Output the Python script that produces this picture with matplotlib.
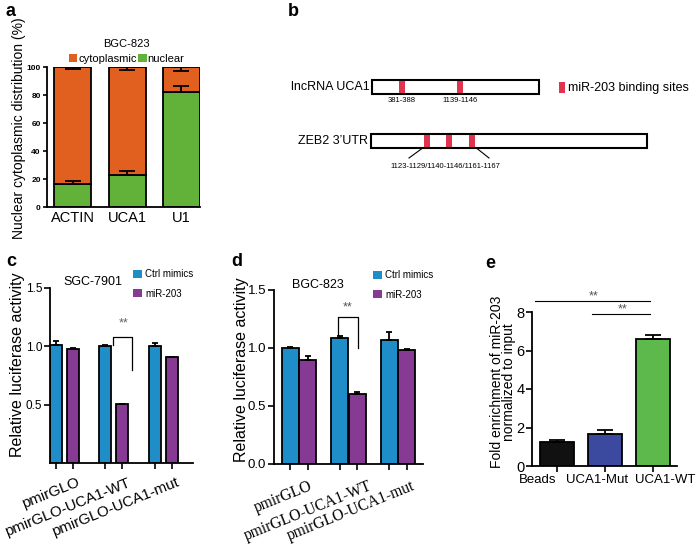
import matplotlib
matplotlib.use('Agg')
import matplotlib.pyplot as plt
from matplotlib.patches import Rectangle, Patch
from matplotlib.transforms import ScaledTranslation
import numpy as np

plt.rcParams['font.family'] = ['Liberation Sans', 'DejaVu Sans']
plt.rcParams['axes.linewidth'] = 1.3

# ---------------- data ----------------
a_categories = ['ACTIN', 'UCA1', 'U1']
a_nuclear = [16.4, 22.9, 82.4]
a_nuclear_err = [2.2, 2.8, 4.2]
a_cyto_err = [1.4, 2.4, 2.9]

uca1_length = 2150
uca1_sites = [381, 1139]
uca1_site_labels = ['381-388', '1139-1146']
zeb2_site_frac = [0.203, 0.283, 0.366]
zeb2_site_label = '1123-1129/1140-1146/1161-1167'

luc_groups = ['pmirGLO', 'pmirGLO-UCA1-WT', 'pmirGLO-UCA1-mut']
c_ctrl = [1.01, 1.0, 1.0]
c_ctrl_err = [0.035, 0.015, 0.03]
c_mir = [0.98, 0.51, 0.91]
c_mir_err = [0.01, 0.0, 0.0]
d_ctrl = [1.0, 1.09, 1.07]
d_ctrl_err = [0.005, 0.01, 0.065]
d_mir = [0.9, 0.6, 0.98]
d_mir_err = [0.035, 0.025, 0.01]

e_categories = ['Beads', 'UCA1-Mut', 'UCA1-WT']
e_values = [1.23, 1.66, 6.58]
e_err = [0.12, 0.21, 0.22]

# ---------------- styles ----------------
ORANGE = '#E2601F'
GREEN = '#62B23A'
BLUE = '#1F8DC8'
PURPLE = '#873A94'
RED = '#E0334F'
E_COLORS = ['#111111', '#3B4A9F', '#5DB94B']

W, H = 700, 552
fig = plt.figure(figsize=(7, 5.52), dpi=100)


def px_axes(l, t, r, b):
    return fig.add_axes([l / W, 1 - b / H, (r - l) / W, (b - t) / H])


def shift_labels(labels, dxs):
    for lab, dx in zip(labels, dxs):
        lab.set_transform(lab.get_transform() + ScaledTranslation(dx / 100, 0, fig.dpi_scale_trans))


# overlay axes in pixel coordinates (panel letters + schematic b)
ov = fig.add_axes([0, 0, 1, 1])
ov.set_xlim(0, W)
ov.set_ylim(H, 0)
ov.axis('off')

for letter, (x, y) in zip('abcde', [(11, 12), (293, 12), (11, 262), (237, 262), (490, 263)]):
    ov.text(x, y, letter, fontsize=13, fontweight='bold', ha='center', va='center')

# ---------------- panel a ----------------
ax = px_axes(47, 67, 200, 207)
xa = np.arange(len(a_categories))
cyto = [100 - n for n in a_nuclear]
ax.bar(xa, a_nuclear, width=0.68, color=GREEN, edgecolor='black', linewidth=1.3, zorder=2)
ax.bar(xa, cyto, bottom=a_nuclear, width=0.68, color=ORANGE, edgecolor='black', linewidth=1.3, zorder=2)
ax.errorbar(xa, a_nuclear, yerr=[np.zeros(3), a_nuclear_err], fmt='none', ecolor='black',
            elinewidth=1.3, capsize=6, capthick=1.3, zorder=3)
ax.errorbar(xa, [100] * 3, yerr=[a_cyto_err, np.zeros(3)], fmt='none', ecolor='black',
            elinewidth=1.3, capsize=6, capthick=1.3, zorder=3)
ax.set_xlim(-0.47, 2.34)
ax.set_ylim(0, 100)
ax.set_yticks([0, 20, 40, 60, 80, 100])
ax.set_yticklabels(['0', '20', '40', '60', '80', '100'], fontsize=6, fontweight='bold')
ax.set_xticks(xa)
ax.set_xticklabels(a_categories, fontsize=10.5)
ax.tick_params(axis='x', length=0, pad=3)
ax.tick_params(axis='y', length=3, width=1.2, pad=1.5)
for s in ['top', 'right']:
    ax.spines[s].set_visible(False)
ax.set_ylabel('Nuclear cytoplasmic distribution (%)', fontsize=10)
ax.yaxis.set_label_coords(-0.135, 0.56)
ax.legend(handles=[Patch(facecolor=ORANGE, label='cytoplasmic'),
                   Patch(facecolor=GREEN, label='nuclear')],
          ncol=2, loc='lower center', bbox_to_anchor=(0.52, 1.02), frameon=False,
          title='BGC-823', fontsize=8, title_fontsize=8, handlelength=0.8,
          handleheight=0.75, handletextpad=0.05, columnspacing=0.15,
          borderpad=0, borderaxespad=0)

# ---------------- panel b ----------------
ux0, ux1, uy0, uy1 = 372, 539, 80, 94
ov.add_patch(Rectangle((ux0, uy0), ux1 - ux0, uy1 - uy0, facecolor='white',
                       edgecolor='black', linewidth=1.5, zorder=2))
for s, lab in zip(uca1_sites, uca1_site_labels):
    xs = ux0 + s / uca1_length * (ux1 - ux0)
    ov.add_patch(Rectangle((xs - 3, uy0 + 0.8), 6, uy1 - uy0 - 1.6, facecolor=RED,
                           edgecolor='none', zorder=3))
    ov.text(xs, 101, lab, fontsize=5.5, ha='center', va='center')
ov.text(370, 87, 'lncRNA UCA1', fontsize=9, ha='right', va='center')
ov.add_patch(Rectangle((559, 82), 6, 11, facecolor=RED, edgecolor='none'))
ov.text(568, 87.5, 'miR-203 binding sites', fontsize=9, ha='left', va='center')

zx0, zx1, zy0, zy1 = 371, 647, 134, 148
ov.add_patch(Rectangle((zx0, zy0), zx1 - zx0, zy1 - zy0, facecolor='white',
                       edgecolor='black', linewidth=1.5, zorder=2))
for f in zeb2_site_frac:
    xs = zx0 + f * (zx1 - zx0)
    ov.add_patch(Rectangle((xs - 3, zy0 + 0.8), 6, zy1 - zy0 - 1.6, facecolor=RED,
                           edgecolor='none', zorder=3))
ov.plot([422, 409], [148.5, 158], color='black', lw=0.8)
ov.plot([477, 489], [148.5, 158], color='black', lw=0.8)
ov.text(445, 166, zeb2_site_label, fontsize=5.5, ha='center', va='center')
ov.text(368, 141, 'ZEB2 3\u2019UTR', fontsize=9, ha='right', va='center')


# ---------------- panels c, d ----------------
def luc_panel(box, ctrl, ctrl_err, mir, mir_err, off, width, xlim, yticks, ytlabels,
              tick_font, tick_fs, title, title_x, title_y, legend_xy, lab_dx, lab_pad,
              ytick_fs, ylab_xy):
    ax = px_axes(*box)
    xg = np.arange(len(luc_groups))
    ax.bar(xg - off, ctrl, width=width, color=BLUE, edgecolor='black', linewidth=1.3, zorder=2)
    ax.bar(xg + off, mir, width=width, color=PURPLE, edgecolor='black', linewidth=1.3, zorder=2)
    ax.errorbar(xg - off, ctrl, yerr=[np.zeros(3), ctrl_err], fmt='none', ecolor='black',
                elinewidth=1.3, capsize=2.5, capthick=1.3, zorder=3)
    ax.errorbar(xg + off, mir, yerr=[np.zeros(3), mir_err], fmt='none', ecolor='black',
                elinewidth=1.3, capsize=2.5, capthick=1.3, zorder=3)
    ax.set_xlim(*xlim)
    ax.set_ylim(0, 1.5)
    ax.set_yticks(yticks)
    ax.set_yticklabels(ytlabels, fontsize=ytick_fs)
    ax.tick_params(axis='y', length=4, width=1.2, pad=1.5)
    ax.set_xticks(np.concatenate([xg - off, xg + off]))
    ax.set_xticklabels([])
    ax.tick_params(axis='x', which='major', length=4, width=1.2)
    ax.set_xticks(xg, luc_groups, minor=True)
    ax.tick_params(axis='x', which='minor', length=0, pad=lab_pad)
    labs = ax.get_xticklabels(minor=True)
    for lab in labs:
        lab.set_rotation(22)
        lab.set_ha('right')
        lab.set_va('top')
        lab.set_rotation_mode('anchor')
        lab.set_fontfamily(tick_font)
        lab.set_fontsize(tick_fs)
    shift_labels(labs, lab_dx)
    for s in ['top', 'right']:
        ax.spines[s].set_visible(False)
    ax.set_ylabel('Relative luciferase activity', fontsize=11.5)
    ax.yaxis.set_label_coords(*ylab_xy)
    ov.text(title_x, title_y, title, fontsize=9, ha='center', va='center')
    lx, ly = legend_xy
    ax.legend(handles=[Patch(facecolor=BLUE, label='Ctrl mimics'),
                       Patch(facecolor=PURPLE, label='miR-203')],
              loc='upper left', bbox_to_anchor=(lx / W, 1 - ly / H),
              bbox_transform=fig.transFigure, frameon=False, fontsize=7,
              handlelength=0.95, handleheight=0.9, handletextpad=0.3,
              labelspacing=1.0, borderpad=0, borderaxespad=0)
    return ax


ax_c = luc_panel((50, 288, 193, 463), c_ctrl, c_ctrl_err, c_mir, c_mir_err,
                 off=0.172, width=0.243, xlim=(-0.294, 2.606),
                 yticks=[0.5, 1.0, 1.5], ytlabels=['0.5', '1.0', '1.5'],
                 tick_font=['Liberation Sans', 'DejaVu Sans'], tick_fs=10.8,
                 title='SGC-7901', title_x=93, title_y=282, legend_xy=(133, 269),
                 lab_dx=[12, 13, 13], lab_pad=9, ytick_fs=8.5, ylab_xy=(-0.175, 0.563))
# significance bracket c
ax_c.plot([0.99, 0.99, 1.375, 1.375], [1.01, 1.08, 1.08, 0.8], color='black', lw=0.9,
          clip_on=False)
ax_c.text(1.19, 1.2, '**', fontsize=9, color='#666666', ha='center', va='center')

ax_d = luc_panel((274, 290, 423, 464), d_ctrl, d_ctrl_err, d_mir, d_mir_err,
                 off=0.172, width=0.343, xlim=(-0.505, 2.505),
                 yticks=[0.0, 0.5, 1.0, 1.5], ytlabels=['0.0', '0.5', '1.0', '1.5'],
                 tick_font=['Liberation Serif', 'DejaVu Serif'], tick_fs=11.2,
                 title='BGC-823', title_x=318, title_y=285, legend_xy=(373, 270),
                 lab_dx=[10, 20, 13], lab_pad=10, ytick_fs=9.5, ylab_xy=(-0.168, 0.54))
ax_d.plot([0.79, 0.79, 1.19, 1.19], [1.11, 1.27, 1.27, 1.0], color='black', lw=0.9,
          clip_on=False)
ax_d.text(0.99, 1.35, '**', fontsize=9, color='#555555', ha='center', va='center')

# ---------------- panel e ----------------
ax = px_axes(532, 312, 677, 466)
xe = np.arange(len(e_categories))
ax.bar(xe, e_values, width=0.7, color=E_COLORS, edgecolor='black', linewidth=1.3, zorder=2)
ax.errorbar(xe, e_values, yerr=[np.zeros(3), e_err], fmt='none', ecolor='black',
            elinewidth=1.3, capsize=6, capthick=1.3, zorder=3)
ax.set_xlim(-0.52, 2.5)
ax.set_ylim(0, 8)
ax.set_yticks([0, 2, 4, 6, 8])
ax.tick_params(axis='y', labelsize=10.5, length=4, width=1.2, pad=1.5)
ax.set_xticks(xe)
ax.tick_params(axis='x', length=4, width=1.2, pad=2)
ax.set_xticklabels(e_categories, fontsize=9.5)
shift_labels(ax.get_xticklabels(), [-19, -8, 12])
for s in ['top', 'right']:
    ax.spines[s].set_visible(False)
ax.set_ylabel('Fold enrichment of miR-203\nnormalized to input', fontsize=10,
              linespacing=0.85)
ax.yaxis.set_label_coords(-0.11, 0.545)
ax.plot([-0.45, 1.94], [8.57, 8.57], color='black', lw=0.8, clip_on=False)
ax.text(0.76, 8.8, '**', fontsize=9, color='#555555', ha='center', va='center')
ax.plot([0.73, 1.94], [7.9, 7.9], color='black', lw=0.8, clip_on=False)
ax.text(1.37, 8.13, '**', fontsize=9, color='#555555', ha='center', va='center')

fig.savefig('out.png', dpi=100)
